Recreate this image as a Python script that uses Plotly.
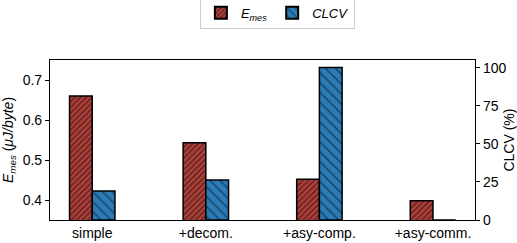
import plotly.graph_objects as go

categories = ["simple", "+decom.", "+asy-comp.", "+asy-comm."]
e_mes = [0.66, 0.543, 0.452, 0.398]
clcv = [19.0, 26.2, 100.0, 0.0]

x_pos = list(range(len(categories)))
red = "#b0403a"
blue = "#2b7bb6"
font_family = "Liberation Sans, Arial, sans-serif"

fig = go.Figure()
fig.add_trace(go.Bar(
    x=x_pos, y=e_mes, name="<i>E</i><sub><i>mes</i></sub>",
    width=0.2, offset=-0.2, yaxis="y",
    marker=dict(color=red, line=dict(color="black", width=1.5),
                pattern=dict(shape="/", size=4, solidity=0.35,
                             fgcolor="black", bgcolor=red)),
))
fig.add_trace(go.Bar(
    x=x_pos, y=clcv, name="<i>CLCV</i>",
    width=0.2, offset=0, yaxis="y2",
    marker=dict(color=blue, line=dict(color="black", width=1.5),
                pattern=dict(shape="\\", size=7, solidity=0.18,
                             fgcolor="black", bgcolor=blue)),
))

fig.update_layout(
    width=517, height=243,
    margin=dict(l=50, r=42, t=60, b=23, autoexpand=False),
    plot_bgcolor="white", paper_bgcolor="white",
    barmode="overlay",
    font=dict(family=font_family, size=14, color="black"),
    showlegend=True,
    legend=dict(orientation="h", x=0.535, xanchor="center", y=1.295, yanchor="middle",
                bordercolor="#cccccc", borderwidth=1, bgcolor="white",
                font=dict(size=13), tracegroupgap=0, itemsizing="constant",
                itemwidth=30),
    xaxis=dict(range=[-0.372, 3.37], tickvals=x_pos, ticktext=categories,
               showline=True, linecolor="black", linewidth=1.2, mirror=True,
               ticks="", showgrid=False, zeroline=False, automargin=False),
    yaxis=dict(range=[0.35, 0.75], tickvals=[0.4, 0.5, 0.6, 0.7],
               ticktext=["0.4", "0.5", "0.6", "0.7"],
               showline=True, linecolor="black", linewidth=1.2, mirror=True,
               ticks="outside", ticklen=4, tickcolor="black",
               showgrid=False, zeroline=False, automargin=False,
               title=dict(text="<i>E</i><sub><i>mes</i></sub> (<i>μJ/byte</i>)",
                          standoff=6, font=dict(size=14))),
    yaxis2=dict(range=[0, 105], tickvals=[0, 25, 50, 75, 100],
                overlaying="y", side="right",
                showline=True, linecolor="black", linewidth=1.2,
                ticks="outside", ticklen=4, tickcolor="black",
                showgrid=False, zeroline=False, automargin=False,
                title=dict(text="CLCV (%)", standoff=4, font=dict(size=14))),
)

fig.write_html("out.html", config={"displayModeBar": False},
               post_script="document.body.style.margin='0';")
